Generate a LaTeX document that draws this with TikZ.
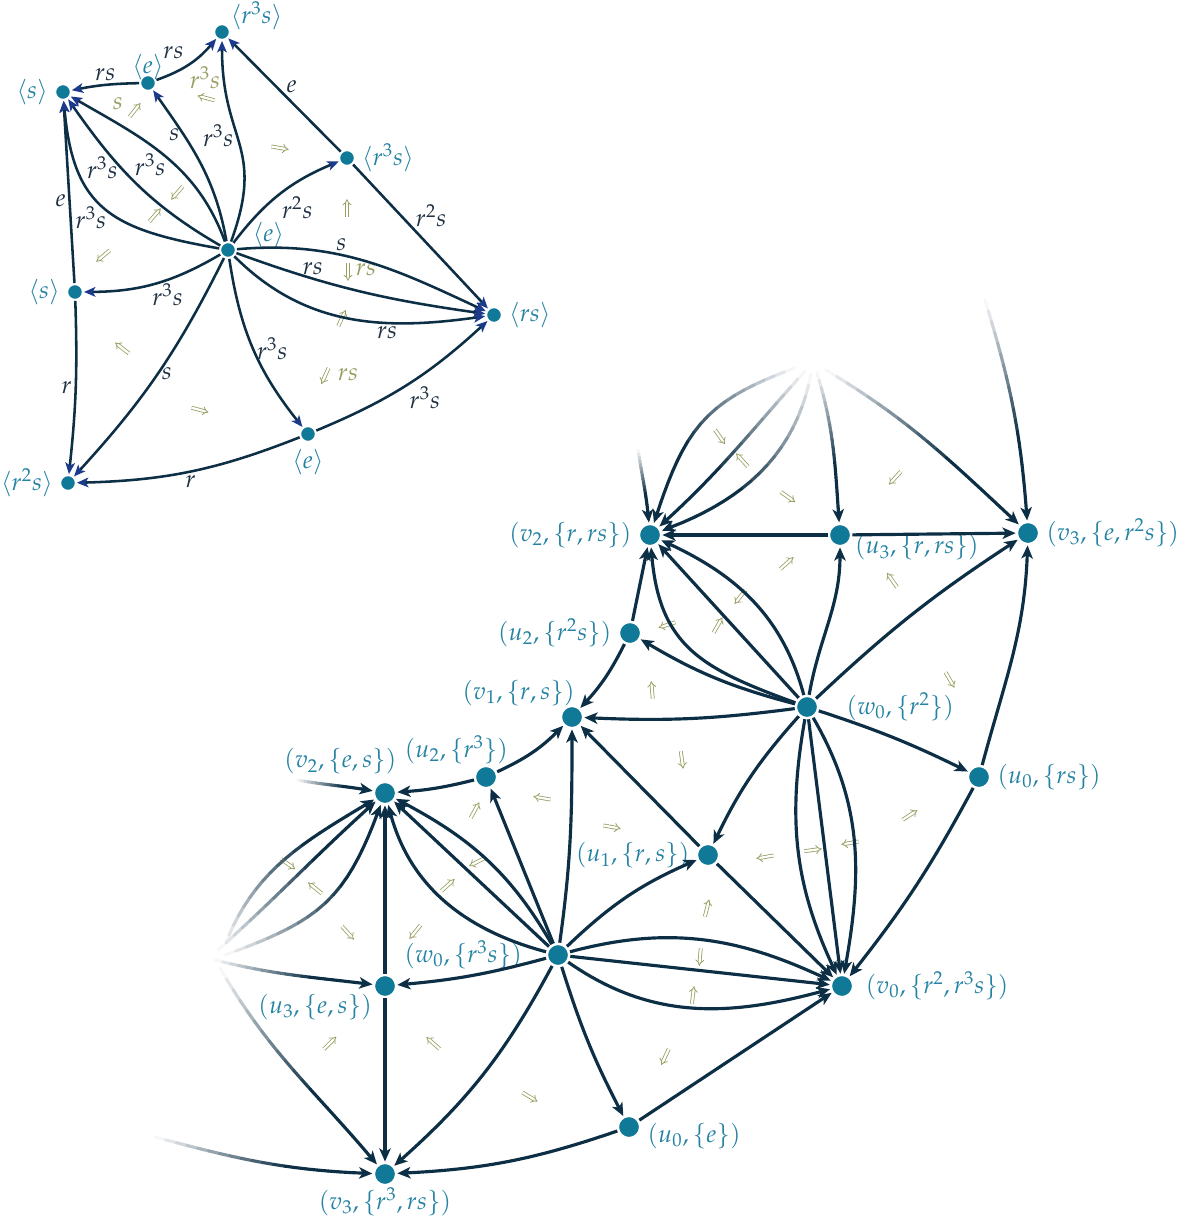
\documentclass[tikz,border=0pt]{standalone}
\usepackage{mathpazo}
\usetikzlibrary{arrows.meta,decorations.markings}

\definecolor{vtxcol}{RGB}{17,121,152}
\definecolor{labcol}{RGB}{36,130,162}
\definecolor{edgecol}{RGB}{13,47,69}
\definecolor{tipcol}{RGB}{27,58,140}
\definecolor{cellcol}{RGB}{152,158,96}
\definecolor{txtcol}{RGB}{30,48,66}

\newcommand\lblsize{\fontsize{14}{16}\selectfont}

\tikzset{
  vtxs/.style={circle, fill=vtxcol, draw=white, line width=1.2pt, minimum size=9pt, inner sep=0pt},
  vtxb/.style={circle, fill=vtxcol, draw=white, line width=1.4pt, minimum size=12.7pt, inner sep=0pt},
  nlab/.style={text=labcol, font=\lblsize},
  elab/.style={text=txtcol, font=\lblsize, inner sep=1.5pt},
  clab/.style={text=cellcol, font=\lblsize, inner sep=1pt},
  arrs/.style={draw=edgecol, line width=1.45pt, -{Stealth[length=6.5pt, width=5.5pt, inset=1.6pt, color=tipcol]}},
  arrb/.style={draw=edgecol, line width=1.8pt, -{Stealth[length=7.5pt, width=6.5pt, inset=2pt]}},
  fadeln/.style={line width=1.8pt, line cap=round},
  twocell/.style={draw=cellcol, double, double distance=1.3pt, line width=0.45pt, -{Implies}},
}

% connector fading out towards its free end: free end #1, out #2, in #3, target #4
\newcommand\fadearc[4]{%
  \path[decorate, decoration={markings,
      mark=between positions 0 and 0.951 step 0.05 with {\coordinate (fd\pgfkeysvalueof{/pgf/decoration/mark info/sequence number});},
      mark=at position 0.999 with {\coordinate (fdend);}}]
    (#1) to[out=#2,in=#3] (#4);
  \foreach \sg [count=\sn from 2] in {1,...,18}{
    \pgfmathtruncatemacro\sk{min(100,8*\sg-4)}
    \draw[fadeln, draw=edgecol!\sk!white] (fd\sg) -- (fd\sn);}
  \draw[arrb, fadeln] (fd19) -- (fdend);
}

\begin{document}
\begin{tikzpicture}[x=0.02cm, y=-0.02cm]
\useasboundingbox (0,0) rectangle (1181,1217);

% small graph
\node[vtxs, label={[nlab,xshift=-3pt,yshift=-5pt]30:$\langle r^3s\rangle$}] (a) at (222,32) {};
\node[vtxs, label={[nlab,label distance=-7pt]above:$\langle e\rangle$}] (b) at (148,83) {};
\node[vtxs, label={[nlab]left:$\langle s\rangle$}] (c) at (63,92) {};
\node[vtxs, label={[nlab]right:$\langle r^3s\rangle$}] (d) at (347,158) {};
\node[vtxs, label={[nlab,anchor=west,xshift=5.5pt,yshift=8.5pt]east:$\langle e\rangle$}] (e) at (228,250) {};
\node[vtxs, label={[nlab]left:$\langle s\rangle$}] (f) at (75,292) {};
\node[vtxs, label={[nlab]right:$\langle rs\rangle$}] (g) at (494,315) {};
\node[vtxs, label={[nlab]below:$\langle e\rangle$}] (h) at (308,434) {};
\node[vtxs, label={[nlab]left:$\langle r^2s\rangle$}] (i) at (68,483) {};

\foreach \x/\y/\a in {135/110/52, 206/98/165, 280/148/-10, 177/193/229, 155/215/49, 103/256/220, 347/208/90, 348/272/-90, 342/318/65, 325/376/246, 122/348/142, 200/410/-15}
  \draw[twocell] (\x,\y) ++(\a:-5pt) -- ++(\a:10pt);
\node[clab] (cs) at (118,104) {$s$};
\node[clab] (cr3s) at (205,78) {$r^3s$};
\node[clab] (crsa) at (366,270) {$rs$};
\node[clab] (crsb) at (348,375) {$rs$};

\draw[arrs] (b) to[bend right=15] node[elab, pos=.5, above left=1pt] {$rs$} (a);
\draw[arrs] (b) to[bend right=5] node[elab, above] {$rs$} (c);
\draw[arrs] (e) to[out=100,in=-55] node[elab, pos=.7, left] {$s$} (b);
\draw[arrs] (e) to[out=70,in=-90,looseness=1.3] node[elab, pos=.55, left] {$r^3s$} (a);
\draw[arrs] (d) -- node[elab, above right=-1pt] {$e$} (a);
\draw[arrs] (e) to[bend left=15] node[elab, below right=-1pt] {$r^2s$} (d);
\draw[arrs] (d) -- node[elab, pos=.45, above right=-1pt] {$r^2s$} (g);
\draw[arrs] (e) to[out=5,in=155] node[elab, pos=.4, above] {$s$} (g);
\draw[arrs] (e) to[out=-20,in=172] node[elab, pos=.3, above] {$rs$} (g);
\draw[arrs] (e) to[out=-45,in=188] node[elab, pos=.65, below] {$rs$} (g);
\draw[arrs] (h) to[bend right=10] node[elab, below right=-1pt] {$r^3s$} (g);
\draw[arrs] (e) to[bend right=15] node[elab, right] {$r^3s$} (h);
\draw[arrs] (e) to[bend left=15] node[elab, pos=.4, below] {$r^3s$} (f);
\draw[arrs] (f) to[bend left=4] node[elab, left] {$r$} (i);
\draw[arrs] (e) to[bend left=8] node[elab, right] {$s$} (i);
\draw[arrs] (h) to[bend left=10] node[elab, below] {$r$} (i);
\draw[arrs] (f) -- node[elab, pos=.45, left] {$e$} (c);
\draw[arrs] (e) to[out=170,in=-85,looseness=1.3] node[elab, pos=.5, below left=-3pt] {$r^3s$} (c);
\draw[arrs] (e) to[out=150,in=-55] node[elab, pos=.6, left] {$r^3s$} (c);
\draw[arrs] (e) to[out=110,in=-30] node[elab, pos=.5, below left=-3pt] {$r^3s$} (c);

% big graph
\node[vtxb, label={[nlab]left:$(v_2,\{r,rs\})$}] (v2r) at (650,535) {};
\node[vtxb, label={[nlab,anchor=west,xshift=-2pt,yshift=-7pt]east:$(u_3,\{r,rs\})$}] (u3r) at (840,535) {};
\node[vtxb, label={[nlab]right:$(v_3,\{e,r^2s\})$}] (v3t) at (1028,533) {};
\node[vtxb, label={[nlab]left:$(u_2,\{r^2s\})$}] (u2a) at (630,633) {};
\node[vtxb, label={[nlab,anchor=south east,xshift=5pt,yshift=-4pt]north:$(v_1,\{r,s\})$}] (v1) at (572,717) {};
\node[vtxb, label={[nlab,label distance=12pt]right:$(w_0,\{r^2\})$}] (w0a) at (807,707) {};
\node[vtxb, label={[nlab,anchor=south east,xshift=16pt,yshift=-3pt]north:$(u_2,\{r^3\})$}] (u2b) at (486,777) {};
\node[vtxb, label={[nlab,anchor=south east,xshift=10pt]north:$(v_2,\{e,s\})$}] (v2e) at (385,793) {};
\node[vtxb, label={[nlab]right:$(u_0,\{rs\})$}] (u0a) at (979,777) {};
\node[vtxb, label={[nlab]left:$(u_1,\{r,s\})$}] (u1) at (708,855) {};
\node[vtxb, label={[nlab,label distance=10pt]left:$(w_0,\{r^3s\})$}] (w0b) at (558,955) {};
\node[vtxb, label={[nlab,anchor=north east,xshift=-4pt,yshift=6pt]south:$(u_3,\{e,s\})$}] (u3e) at (385,986) {};
\node[vtxb, label={[nlab,label distance=3pt]right:$(v_0,\{r^2,r^3s\})$}] (v0) at (842,986) {};
\node[vtxb, label={[nlab,anchor=west,yshift=-5pt]east:$(u_0,\{e\})$}] (u0b) at (629,1127) {};
\node[vtxb, label={[nlab,label distance=-3pt]below:$(v_3,\{r^3,rs\})$}] (v3b) at (385,1174) {};

\coordinate (ta) at (795,368);
\coordinate (tb) at (805,371);
\coordinate (tc) at (811,374);
\coordinate (td) at (817,373);
\coordinate (te) at (826,370);
\coordinate (tf) at (985,300);
\coordinate (tg) at (638,450);
\coordinate (la) at (225,945);
\coordinate (lb) at (218,950);
\coordinate (lc) at (225,955);
\coordinate (ld) at (215,960);
\coordinate (le) at (220,968);
\coordinate (lf) at (297,780);
\coordinate (lg) at (155,1137);

\foreach \x/\y/\a in {720/437/-55, 742/460/132, 788/497/-35, 895/478/228, 787/563/42, 892/580/125, 740/597/232, 718/625/60, 667/625/198, 652/690/95, 950/680/-60, 682/760/-82, 542/798/170, 612/827/-10, 765/857/190, 813/850/8, 850/843/190, 910/815/33, 707/908/76, 700/957/265, 693/995/83, 665/1057/245, 530/1097/-31, 433/1043/138, 330/1043/45, 475/810/61, 477/862/207, 448/885/42, 415/932/231, 288/864/-35, 315/888/141, 348/933/-48}
  \draw[twocell] (\x,\y) ++(\a:-5pt) -- ++(\a:10pt);

\fadearc{ta}{200,looseness=1.2}{72}{v2r}
\fadearc{tb}{228}{42}{v2r}
\fadearc{tc}{259}{20}{v2r}
\fadearc{td}{-73}{94}{u3r}
\fadearc{te}{-31}{137}{v3t}
\fadearc{tf}{-73}{94}{v3t}
\fadearc{tg}{-81}{95}{v2r}
\fadearc{la}{69}{211}{v2e}
\fadearc{lb}{42}{222}{v2e}
\fadearc{lc}{20,looseness=1.2}{250}{v2e}
\fadearc{ld}{-14}{173}{u3e}
\fadearc{le}{-60}{130}{v3b}
\fadearc{lf}{-10}{170}{v2e}
\fadearc{lg}{-15}{178}{v3b}

\draw[arrb] (u3r) -- (v2r);
\draw[arrb] (u3r) -- (v3t);
\draw[arrb] (w0a) to[out=80,in=-90] (u3r);
\draw[arrb] (w0a) to[bend left=5] (v3t);
\draw[arrb] (u0a) to[out=75,in=-92] (v3t);
\draw[arrb] (w0a) to[out=160,in=-85,looseness=1.2] (v2r);
\draw[arrb] (w0a) -- (v2r);
\draw[arrb] (w0a) to[out=105,in=-25] (v2r);
\draw[arrb] (w0a) to[bend left=8] (u2a);
\draw[arrb] (u2a) to[bend left=8] (v1);
\draw[arrb] (u2a) -- (v2r);
\draw[arrb] (w0a) to[bend left=5] (v1);
\draw[arrb] (u1) -- (v1);
\draw[arrb] (w0b) to[out=82,in=-90] (v1);
\draw[arrb] (u2b) to[bend right=10] (v1);
\draw[arrb] (u2b) to[bend left=5] (v2e);
\draw[arrb] (w0b) -- (u2b);
\draw[arrb] (w0b) to[out=120,in=-28] (v2e);
\draw[arrb] (w0b) -- (v2e);
\draw[arrb] (w0b) to[out=165,in=-75] (v2e);
\draw[arrb] (u3e) -- (v2e);
\draw[arrb] (w0b) to[bend left=5] (u3e);
\draw[arrb] (u3e) -- (v3b);
\draw[arrb] (w0b) to[bend left=10] (v3b);
\draw[arrb] (w0b) to[bend right=5] (u0b);
\draw[arrb] (u0b) to[bend left=8] (v3b);
\draw[arrb] (u0b) -- (v0);
\draw[arrb] (w0b) to[out=15,in=155] (v0);
\draw[arrb] (w0b) -- (v0);
\draw[arrb] (w0b) to[out=-35,in=195] (v0);
\draw[arrb] (w0b) to[bend left=10] (u1);
\draw[arrb] (u1) -- (v0);
\draw[arrb] (w0a) to[bend right=8] (u1);
\draw[arrb] (w0a) to[out=-100,in=115] (v0);
\draw[arrb] (w0a) -- (v0);
\draw[arrb] (w0a) to[out=-60,in=80] (v0);
\draw[arrb] (u0a) to[bend left=5] (v0);
\draw[arrb] (w0a) to[bend left=4] (u0a);
\end{tikzpicture}
\end{document}
